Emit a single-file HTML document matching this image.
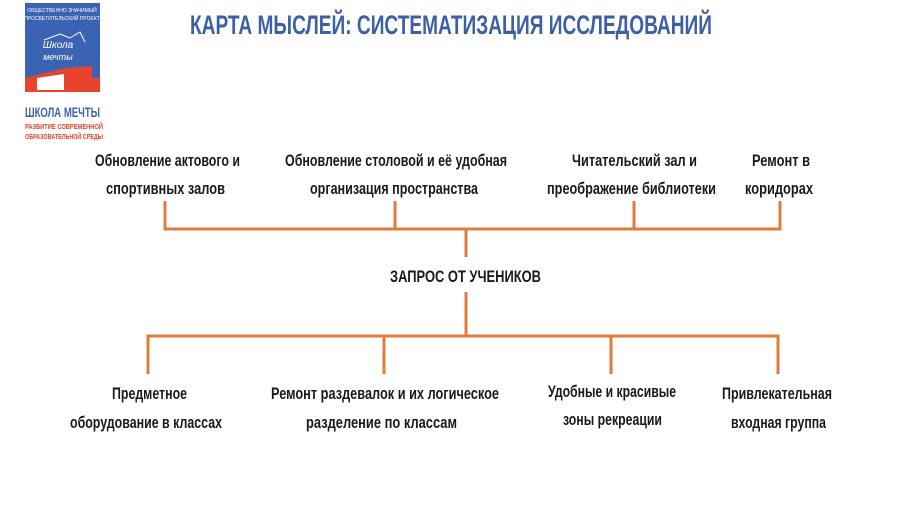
<!DOCTYPE html>
<html><head><meta charset="utf-8"><style>
html,body{margin:0;padding:0;background:#fff;width:900px;height:506px;overflow:hidden}
svg{display:block}
text{font-family:"Liberation Sans Narrow","Liberation Sans",sans-serif;fill:#1a1a1a}
</style></head><body>
<svg width="900" height="506" viewBox="0 0 900 506" xmlns="http://www.w3.org/2000/svg">
<!-- logo -->
<rect x="25" y="3" width="75" height="89" fill="#3b63b3"/>
<polygon points="25,78 65,68 92,66 92,78 100,78 100,92 25,92" fill="#e8432c"/>
<polygon points="37,90 37,78 64,74 64,90" fill="#fff"/>
<text x="62" y="12" font-size="5" style="fill:#fff" text-anchor="middle">ОБЩЕСТВЕННО ЗНАЧИМЫЙ</text>
<text x="62" y="20" font-size="5" style="fill:#fff" text-anchor="middle">ПРОСВЕТИТЕЛЬСКИЙ ПРОЕКТ</text>
<text x="58" y="48" font-size="10" font-style="italic" style="fill:#fff" text-anchor="middle">Школа</text>
<text x="58" y="60" font-size="9" font-style="italic" style="fill:#fff" text-anchor="middle">мечты</text>
<path d="M44 40 L60 34 L70 38 L80 32 L85 42" stroke="#fff" fill="none" stroke-width="1"/>
<text x="25" y="117" font-size="14" font-weight="bold" style="fill:#3b63b3" textLength="75" lengthAdjust="spacingAndGlyphs">ШКОЛА МЕЧТЫ</text>
<text x="25" y="129" font-size="7" font-weight="bold" style="fill:#e8432c" textLength="78" lengthAdjust="spacingAndGlyphs">РАЗВИТИЕ СОВРЕМЕННОЙ</text>
<text x="25" y="139" font-size="7" font-weight="bold" style="fill:#e8432c" textLength="78" lengthAdjust="spacingAndGlyphs">ОБРАЗОВАТЕЛЬНОЙ СРЕДЫ</text>
<!-- title -->
<text x="190" y="34" font-size="27" font-weight="bold" style="fill:#3d5fa6" textLength="522" lengthAdjust="spacingAndGlyphs">КАРТА МЫСЛЕЙ: СИСТЕМАТИЗАЦИЯ ИССЛЕДОВАНИЙ</text>
<!-- lines -->
<g stroke="#e07b39" stroke-width="3" fill="none">
<path d="M165 201 V229 H780 V201"/>
<path d="M395 201 V229 M634 201 V229"/>
<path d="M466 229 V257"/>
<path d="M466 292 V336"/>
<path d="M148 374 V336 H778 V374"/>
<path d="M384 336 V374 M611 336 V374"/>
</g>
<!-- labels -->
<g font-size="17" font-weight="bold">
<text x="95" y="166" textLength="145" lengthAdjust="spacingAndGlyphs">Обновление актового и</text>
<text x="106" y="194" textLength="119" lengthAdjust="spacingAndGlyphs">спортивных  залов</text>
<text x="285" y="166" textLength="222" lengthAdjust="spacingAndGlyphs">Обновление столовой и её удобная</text>
<text x="310" y="194" textLength="168" lengthAdjust="spacingAndGlyphs">организация пространства</text>
<text x="572" y="166" textLength="125" lengthAdjust="spacingAndGlyphs">Читательский зал и</text>
<text x="547" y="194" textLength="169" lengthAdjust="spacingAndGlyphs">преображение библиотеки</text>
<text x="752" y="166" textLength="58" lengthAdjust="spacingAndGlyphs">Ремонт в</text>
<text x="745" y="194" textLength="68" lengthAdjust="spacingAndGlyphs">коридорах</text>
<text x="390" y="282" textLength="151" lengthAdjust="spacingAndGlyphs">ЗАПРОС ОТ УЧЕНИКОВ</text>
<text x="112" y="399" textLength="75" lengthAdjust="spacingAndGlyphs">Предметное</text>
<text x="70" y="428" textLength="152" lengthAdjust="spacingAndGlyphs">оборудование в классах</text>
<text x="271" y="399" textLength="228" lengthAdjust="spacingAndGlyphs">Ремонт раздевалок и их логическое</text>
<text x="306" y="428" textLength="151" lengthAdjust="spacingAndGlyphs">разделение по классам</text>
<text x="548" y="397" textLength="128" lengthAdjust="spacingAndGlyphs">Удобные и красивые</text>
<text x="563" y="425" textLength="99" lengthAdjust="spacingAndGlyphs">зоны рекреации</text>
<text x="722" y="399" textLength="110" lengthAdjust="spacingAndGlyphs">Привлекательная</text>
<text x="731" y="428" textLength="95" lengthAdjust="spacingAndGlyphs">входная группа</text>
</g>
</svg>
</body></html>
